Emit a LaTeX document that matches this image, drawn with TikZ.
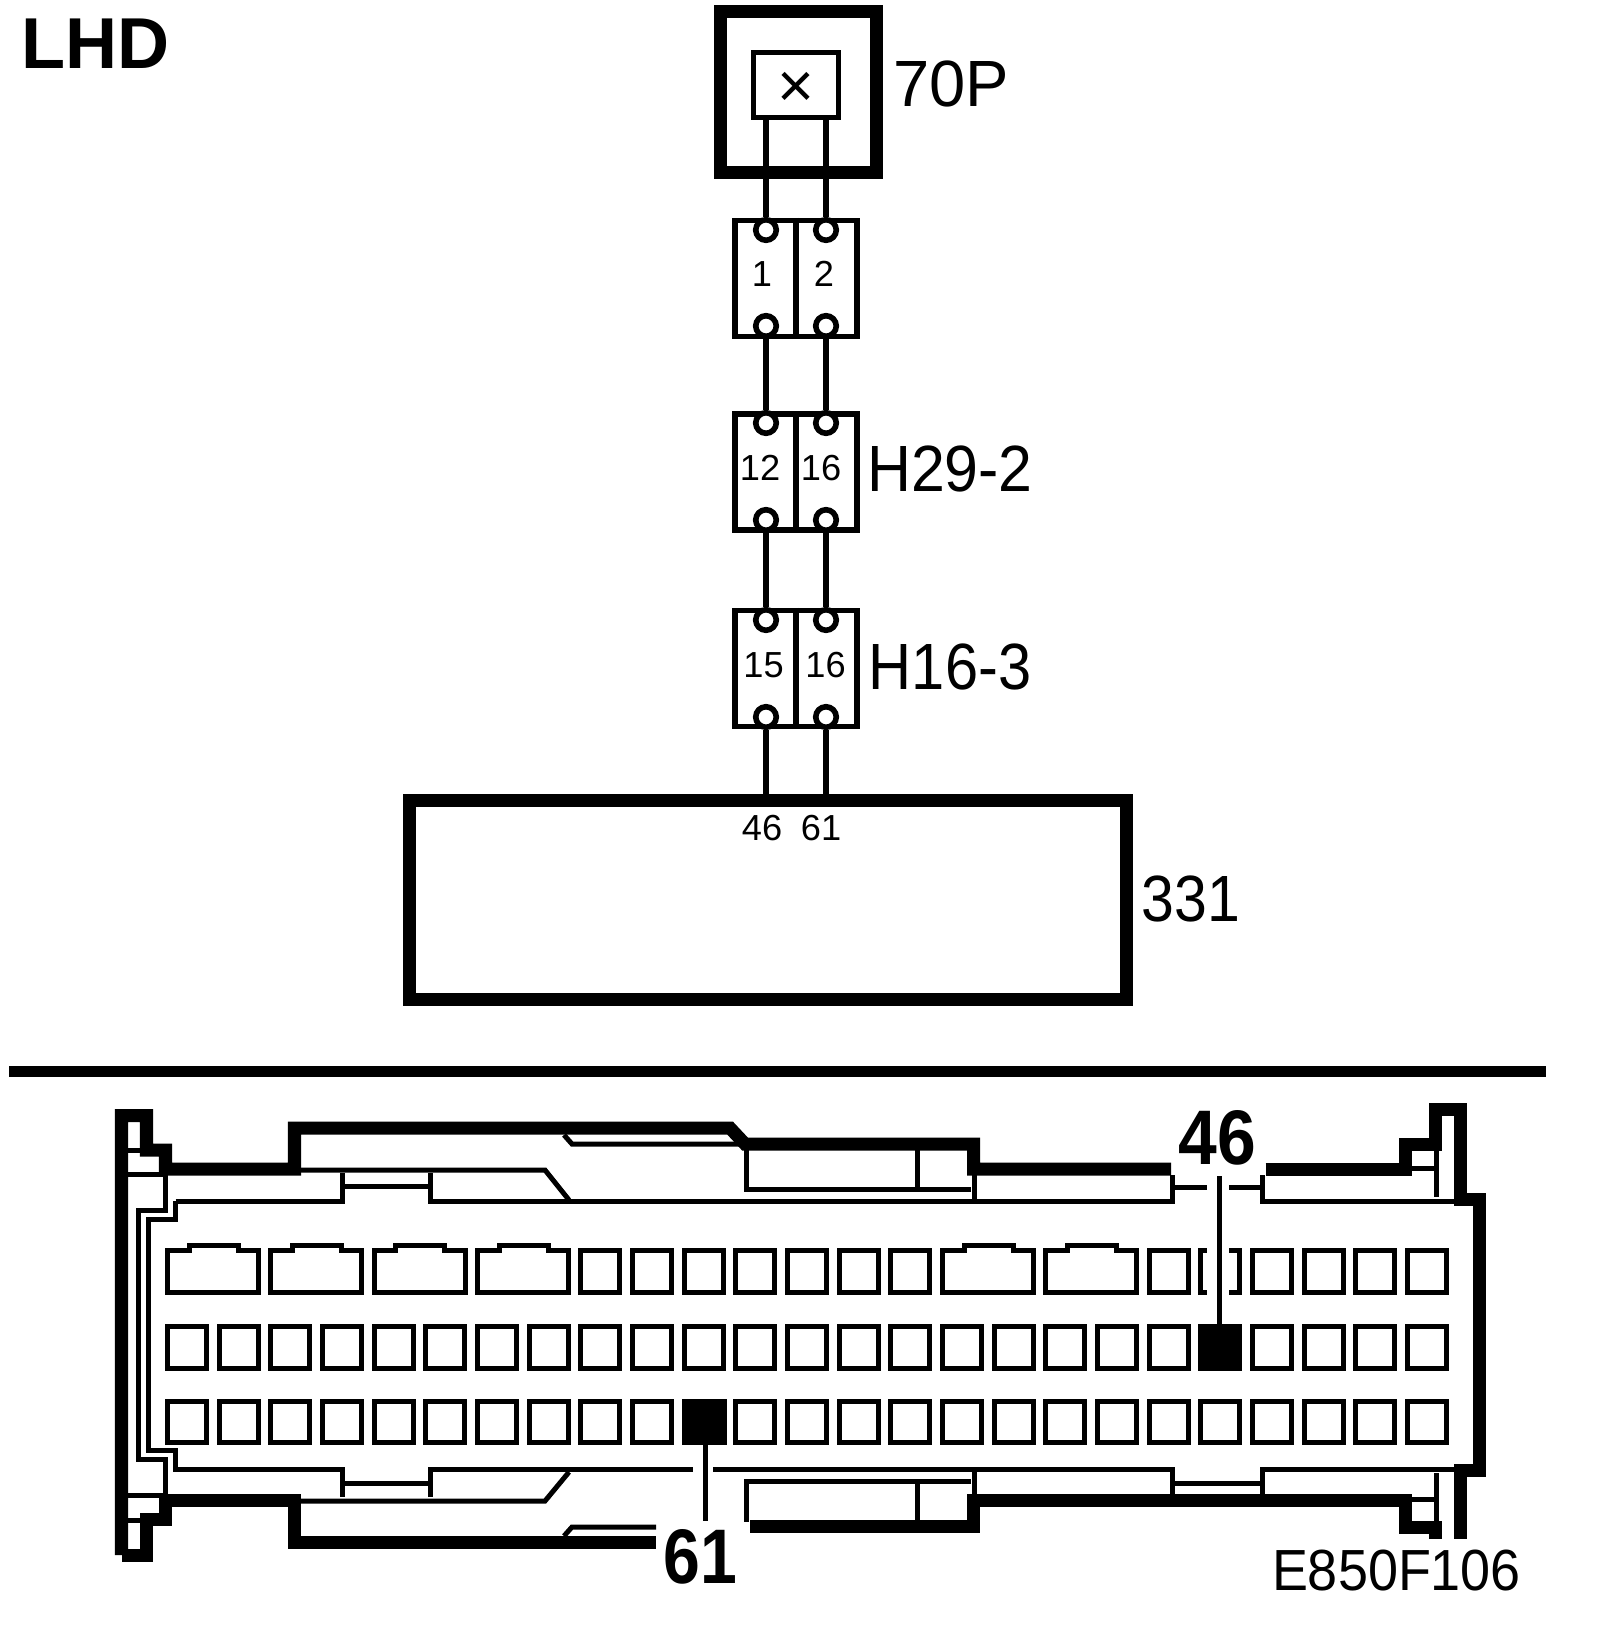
\documentclass[tikz,border=0pt]{standalone}
\usepackage{fontspec}
\setmainfont{Liberation Sans}
\tikzset{
  heavy/.style={line width=0.13cm},
  fine/.style={line width=0.05cm},
  wire/.style={line width=0.055cm},
  pin/.style={circle,draw,fill=white,line width=0.056cm,minimum size=0.205cm,inner sep=0pt},
  plug/.style={rectangle,draw,line width=0.055cm,minimum width=1.22cm,minimum height=1.155cm,inner sep=0pt},
  bigtext/.style={inner sep=0pt,xscale=0.93,transform shape,font=\fontsize{18.6}{18.6}\selectfont},
  pintext/.style={inner sep=0pt,font=\fontsize{10.3}{10.3}\selectfont},
  boldtext/.style={inner sep=0pt,xscale=0.9,transform shape,font=\fontsize{22}{22}\selectfont\bfseries}
}
\begin{document}
\begin{tikzpicture}[x=0.01cm,y=-0.01cm]
	\useasboundingbox (0,0) rectangle (1600,1630);
	\node[inner sep=0pt,font=\fontsize{20.5}{20.5}\selectfont\bfseries] (lhd) at (95.5,44) {LHD};
	\node[rectangle,draw,heavy,minimum width=1.56cm,minimum height=1.6cm,inner sep=0pt] (relay) at (798.5,92) {};
	\node[rectangle,draw,line width=0.05cm,minimum width=0.84cm,minimum height=0.64cm,inner sep=0pt] (fuse) at (796,85) {};
	\node[inner sep=0pt,font=\fontsize{18}{18}\selectfont] (fusemark) at (795.5,90) {×};
	\node[bigtext,xscale=1.07] (t70p) at (951,84) {70P};
	\node[plug] (c1) at (796,278.5) {};
	\node[plug] (c2) at (796,472) {};
	\node[plug] (c3) at (796,668.5) {};
	\node[rectangle,draw,heavy,minimum width=7.17cm,minimum height=1.99cm,inner sep=0pt] (ecu) at (768,900) {};
	\foreach \n in {c1,c2,c3}
		\draw[wire] (\n.north) -- (\n.south);
	\foreach \n/\yt/\yb in {c1/230/326,c2/423/520,c3/620/717}{
		\node[pin] (\n lt) at (766,\yt) {};
		\node[pin] (\n rt) at (826,\yt) {};
		\node[pin] (\n lb) at (766,\yb) {};
		\node[pin] (\n rb) at (826,\yb) {};
	}
	\draw[wire] (fuse.south -| c1lt) -- (c1lt);
	\draw[wire] (fuse.south -| c1rt) -- (c1rt);
	\draw[wire] (c1lb) -- (c2lt);
	\draw[wire] (c1rb) -- (c2rt);
	\draw[wire] (c2lb) -- (c3lt);
	\draw[wire] (c2rb) -- (c3rt);
	\draw[wire] (c3lb) -- (ecu.north -| c3lb);
	\draw[wire] (c3rb) -- (ecu.north -| c3rb);
	\node[pintext] (p1) at (762,274) {1};
	\node[pintext] (p2) at (824,274) {2};
	\node[pintext] (p12) at (760,468) {12};
	\node[pintext] (p16a) at (821,468) {16};
	\node[pintext] (p15) at (763.5,665) {15};
	\node[pintext] (p16b) at (825.5,665) {16};
	\node[pintext] (p46) at (762,828) {46};
	\node[pintext] (p61) at (821,828) {61};
	\node[bigtext] (th29) at (950,468.5) {H29-2};
	\node[bigtext,xscale=0.98] (th16) at (950,666.5) {H16-3};
	\node[bigtext,xscale=0.97] (t331) at (1191,899) {331};
	\fill (9,1066) rectangle (1546,1077);
	\draw[heavy] (121.5,1555) -- (121.5,1115.5) -- (146.5,1115.5) -- (146.5,1150) -- (165.5,1150) -- (165.5,1169) -- (294.5,1169) -- (294.5,1128) -- (730,1128) -- (745,1144) -- (973.5,1144) -- (973.5,1169) -- (1171,1169);
	\draw[heavy] (1265.5,1169) -- (1405,1169) -- (1405,1144) -- (1435,1144) -- (1435,1109) -- (1460.5,1109) -- (1460.5,1199.5) -- (1479,1199.5) -- (1479,1470) -- (1460.5,1470) -- (1460.5,1539);
	\draw[heavy] (121.5,1555) -- (146.5,1555) -- (146.5,1519) -- (165.5,1519) -- (165.5,1500.5) -- (294.5,1500.5) -- (294.5,1542.5) -- (656,1542.5);
	\draw[heavy] (750,1526.5) -- (973.5,1526.5) -- (973.5,1500.5) -- (1405,1500.5) -- (1405,1527) -- (1435,1527) -- (1435,1539);
	\draw[fine] (128,1150.5) -- (150,1150.5);
	\draw[fine] (128,1174.5) -- (165.5,1174.5) -- (165.5,1210) -- (138,1210) -- (138,1459) -- (165.5,1459) -- (165.5,1497);
	\draw[fine] (128,1495) -- (165,1495);
	\draw[fine] (128,1520) -- (150,1520);
	\draw[fine] (294,1170) -- (545,1170) -- (569,1200);
	\draw[fine] (175.5,1201) -- (175.5,1219) -- (148,1219) -- (148,1450) -- (175.5,1450) -- (175.5,1469.5) -- (342,1469.5) -- (342,1497);
	\draw[fine] (175.5,1201) -- (342,1201) -- (342,1173);
	\draw[fine] (342,1186.5) -- (430,1186.5);
	\draw[fine] (430,1173) -- (430,1201) -- (1172.5,1201) -- (1172.5,1175);
	\draw[fine] (1172.5,1187) -- (1207,1187);
	\draw[fine] (1229,1187) -- (1262,1187);
	\draw[fine] (1262,1175) -- (1262,1201) -- (1464,1201);
	\draw[fine] (1436,1146) -- (1436,1197);
	\draw[fine] (1405,1168.5) -- (1436,1168.5);
	\draw[fine] (564,1135) -- (572,1144) -- (740,1144);
	\draw[fine] (746,1148) -- (746,1189) -- (971,1189);
	\draw[fine] (917,1148) -- (917,1189);
	\draw[fine] (974,1174) -- (974,1201);
	\draw[fine] (342,1483) -- (430,1483);
	\draw[fine] (430,1497) -- (430,1469.5) -- (693,1469.5);
	\draw[fine] (713,1469.5) -- (1172.5,1469.5) -- (1172.5,1496);
	\draw[fine] (1172.5,1483) -- (1262,1483);
	\draw[fine] (1262,1496) -- (1262,1469.5) -- (1464,1469.5);
	\draw[fine] (294,1501) -- (545,1501) -- (569,1472);
	\draw[fine] (564,1536) -- (572,1527) -- (656,1527);
	\draw[fine] (971,1481) -- (746,1481) -- (746,1522);
	\draw[fine] (917,1481) -- (917,1522);
	\draw[fine] (974,1471) -- (974,1496);
	\draw[fine] (1436,1473) -- (1436,1497);
	\draw[fine] (1405,1499) -- (1436,1499) -- (1436,1527);
	\foreach \c in {8,...,14,19,20,...,24}{
		\pgfmathsetmacro{\xa}{165+51.67*\c+2.5}
		\pgfmathsetmacro{\xb}{\xa+39}
		\draw[fine] (\xa,1250.5) rectangle (\xb,1292.5);
	}
	\foreach \c in {0,2,4,6,15,17}{
		\pgfmathsetmacro{\xa}{165+51.67*\c+2.5}
		\pgfmathsetmacro{\xb}{\xa+21.5}
		\pgfmathsetmacro{\xc}{\xb+49}
		\pgfmathsetmacro{\xd}{\xa+91}
		\draw[fine] (\xa,1292.5) -- (\xa,1250.5) -- (\xb,1250.5) -- (\xb,1245) -- (\xc,1245) -- (\xc,1250.5) -- (\xd,1250.5) -- (\xd,1292.5) -- cycle;
	}
	\foreach \c in {0,...,24}{
		\pgfmathsetmacro{\xa}{165+51.67*\c+2.5}
		\pgfmathsetmacro{\xb}{\xa+39}
		\draw[fine] (\xa,1326.5) rectangle (\xb,1368.5);
		\draw[fine] (\xa,1401.5) rectangle (\xb,1442.5);
	}
	\fill (1198,1324) rectangle (1241,1371);
	\fill (682,1399) rectangle (727,1445);
	\fill[white] (1207,1240) rectangle (1229,1300);
	\draw[fine] (1219,1176) -- (1219,1324);
	\draw[fine] (705,1445) -- (705,1521);
	\node[boldtext] (big46) at (1217.5,1137.5) {46};
	\node[boldtext,xscale=0.95] (big61) at (700.5,1557) {61};
	\node[inner sep=0pt,xscale=0.93,transform shape,font=\fontsize{16.5}{16.5}\selectfont] (code) at (1396.5,1571) {E850F106};
\end{tikzpicture}
\end{document}
